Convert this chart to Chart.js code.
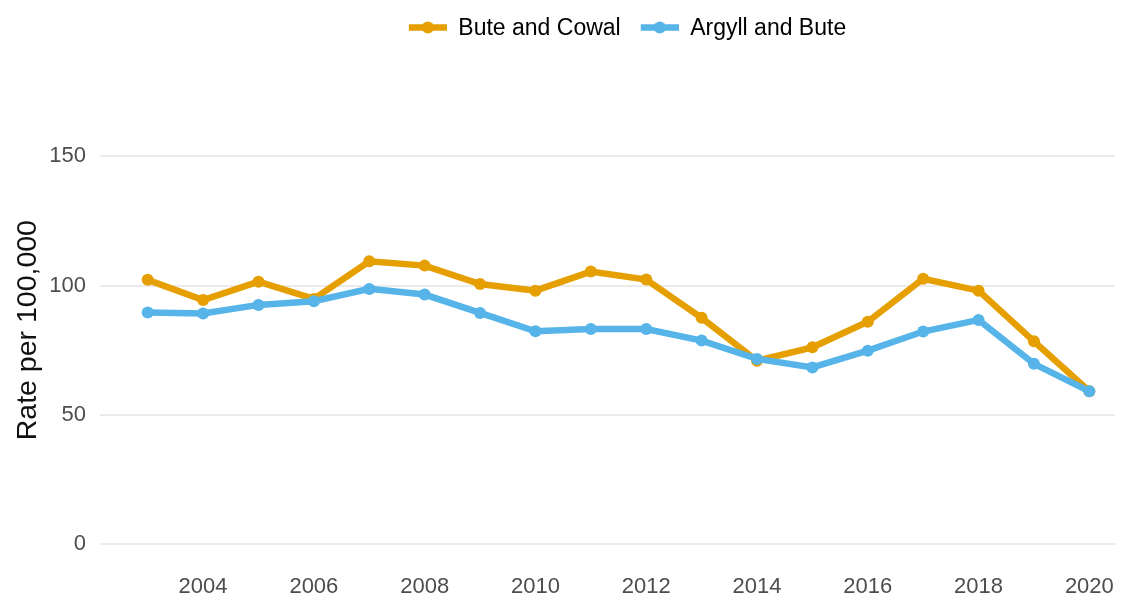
<!DOCTYPE html>
<html><head><meta charset="utf-8">
<script src="https://cdn.jsdelivr.net/npm/chart.js@4/dist/chart.umd.min.js"></script>
<style>html,body{margin:0;padding:0;background:#fff;} #wrap{width:1125px;height:596px;position:relative;}</style>
</head><body><div id="wrap"><canvas id="c"></canvas></div>
<script>
const years = [2003,2004,2005,2006,2007,2008,2009,2010,2011,2012,2013,2014,2015,2016,2017,2018,2019,2020];
const buteCowal = [102.2,94.4,101.5,94.8,109.4,107.7,100.6,98.0,105.4,102.3,87.5,70.9,76.1,86.0,102.6,98.0,78.4,59.1];
const argyllBute = [89.6,89.2,92.5,93.9,98.7,96.5,89.4,82.3,83.2,83.2,78.7,71.6,68.3,74.8,82.2,86.7,69.7,59.1];
const seriesNames = ['Bute and Cowal','Argyll and Bute'];
const seriesColors = ['#E69F00','#56B4E9'];
const xTickValues = [2004,2006,2008,2010,2012,2014,2016,2018,2020];
const yTickValues = [0,50,100,150];
const yTitle = 'Rate per 100,000';

const FONT = "'Liberation Sans', Arial, sans-serif";

function legendIcon(color){
  const c = document.createElement('canvas');
  c.width = 48; c.height = 16;
  const g = c.getContext('2d');
  g.strokeStyle = color; g.lineWidth = 6.5; g.lineCap = 'butt';
  g.beginPath(); g.moveTo(10, 6.5); g.lineTo(48, 6.5); g.stroke();
  g.fillStyle = color;
  g.beginPath(); g.arc(29, 6.5, 6, 0, Math.PI*2); g.fill();
  return c;
}

const layoutFix = {
  id: 'layoutFix',
  beforeInit(chart){
    const lg = chart.legend;
    if (lg) {
      const orig = lg.fit;
      lg.fit = function(){ orig.call(this); this.height = 99.5; };
    }
  },
  afterLayout(chart){
    const lg = chart.legend;
    if (lg) {
      const shift = 622.5 - (lg.left + lg.right) / 2;
      lg.left += shift; lg.right += shift;
    }
  }
};

const datasets = [buteCowal, argyllBute].map((vals, i) => ({
  label: seriesNames[i],
  data: years.map((yr, j) => ({x: yr, y: vals[j]})),
  borderColor: seriesColors[i],
  backgroundColor: seriesColors[i],
  borderWidth: 6.5,
  pointRadius: 6,
  pointHoverRadius: 6,
  pointBorderWidth: 0,
  tension: 0,
  fill: false,
  order: i === 0 ? 1 : 0
}));

new Chart(document.getElementById('c'), {
  type: 'line',
  data: { datasets },
  plugins: [layoutFix],
  options: {
    responsive: true,
    maintainAspectRatio: false,
    animation: false,
    layout: { padding: { top: 7.5, right: 10, left: 0, bottom: 0 } },
    plugins: {
      tooltip: { enabled: false },
      legend: {
        position: 'top',
        align: 'center',
        labels: {
          usePointStyle: true,
          pointStyleWidth: 48,
          boxHeight: 23,
          padding: 10,
          color: '#111111',
          font: { family: FONT, size: 23 },
          generateLabels(chart){
            return seriesNames.map((n, i) => ({
              text: n,
              fillStyle: seriesColors[i],
              strokeStyle: seriesColors[i],
              lineWidth: 0,
              pointStyle: legendIcon(seriesColors[i]),
              hidden: false,
              datasetIndex: i
            }));
          }
        }
      }
    },
    scales: {
      x: {
        type: 'linear',
        min: 2002.139,
        max: 2020.463,
        afterBuildTicks(scale){ scale.ticks = xTickValues.map(v => ({value: v})); },
        afterFit(scale){ scale.height = 42.7; scale.paddingLeft = 0; scale.paddingRight = 0; },
        grid: { display: false, drawTicks: false },
        border: { display: false },
        ticks: {
          autoSkip: false, maxRotation: 0, padding: 20,
          color: '#4d4d4d',
          font: { family: FONT, size: 22 },
          callback: v => String(v)
        }
      },
      y: {
        type: 'linear',
        min: -3.6,
        max: 169.07,
        afterBuildTicks(scale){ scale.ticks = yTickValues.map(v => ({value: v})); },
        afterFit(scale){ scale.width = 100; },
        grid: { color: '#ebebeb', lineWidth: 2, drawTicks: false },
        border: { display: false },
        ticks: {
          padding: 14,
          color: '#4d4d4d',
          font: { family: FONT, size: 22 },
          callback: v => String(v)
        },
        title: {
          display: true,
          text: yTitle,
          color: '#111111',
          font: { family: FONT, size: 28.5 },
          padding: { top: 11, bottom: 0 }
        }
      }
    }
  }
});
</script>
</body></html>
